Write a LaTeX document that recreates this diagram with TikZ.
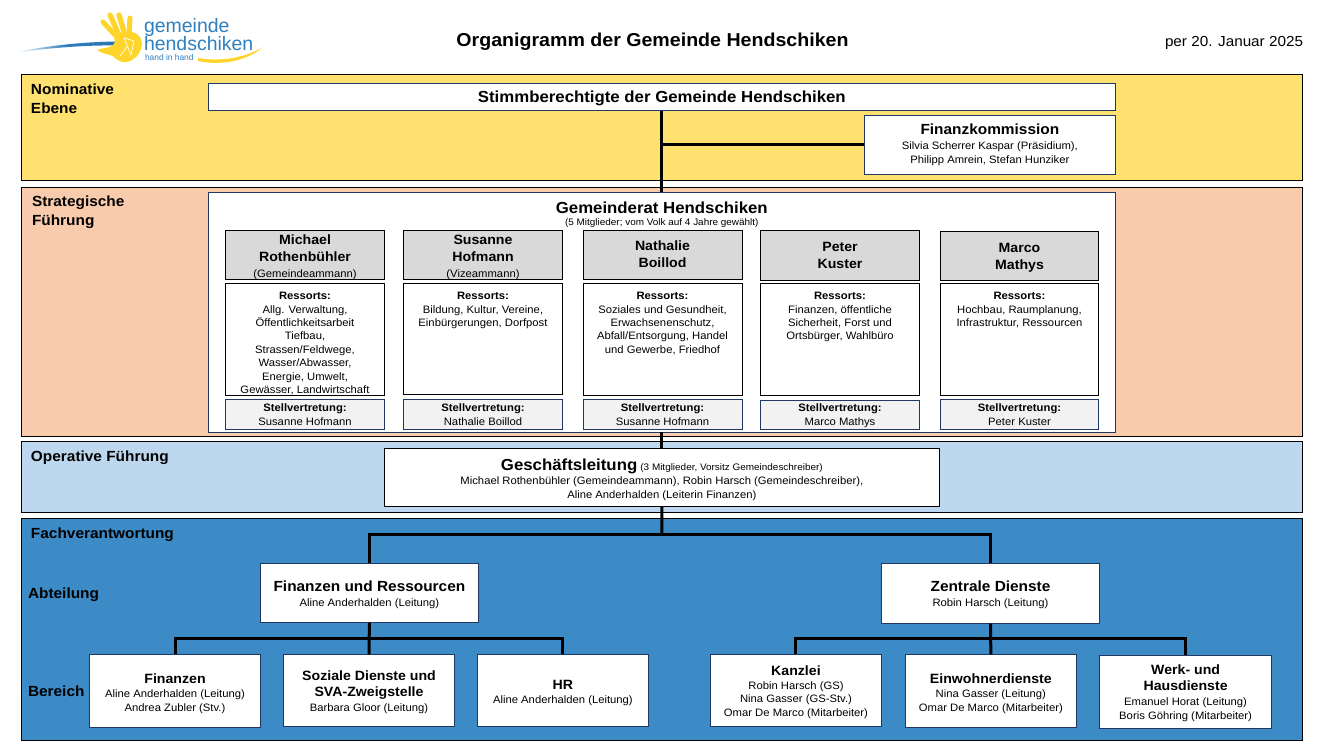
\documentclass[tikz,border=0pt]{standalone}
\usepackage{fontspec}
\setmainfont{Liberation Sans}[FakeStretch=1.05]
\newfontfamily\logofont{Liberation Sans}
\definecolor{navy}{HTML}{1F3864}
\definecolor{pyellow}{HTML}{FFE16F}
\definecolor{ppeach}{HTML}{F8CBAD}
\definecolor{plight}{HTML}{BDD7EE}
\definecolor{pblue}{HTML}{3C8AC6}
\definecolor{greyhead}{HTML}{D9D9D9}
\definecolor{greysub}{HTML}{F2F2F2}
\definecolor{logoblue}{HTML}{2F7FC1}
\definecolor{logoyellow}{HTML}{FFD52B}
\newcommand{\bx}[7]{%
  \pgfmathsetmacro\bxcx{(#3+#5)/2}%
  \pgfmathsetmacro\bxcy{(#4+#6)/2}%
  \pgfmathsetmacro\bxw{(#5-#3)*0.75}%
  \pgfmathsetmacro\bxh{(#6-#4)*0.75}%
  \def\bxtop{#4}%
  \node[#1,minimum width=\bxw pt,minimum height=\bxh pt] (#2) at (\bxcx,\bxcy) {#7};}
% text block whose first baseline lies at the given picture y
\newcommand{\tb}[2]{\pgfmathsetmacro\tbv{(#1-\bxtop)*0.75-10}\parbox[c][\bxh pt][t]{\bxw pt}{\vspace*{\tbv pt}\centering\rule{0pt}{10pt}#2\par}}
\newcommand{\hdo}[1]{{\fontsize{10.1}{12}\selectfont\bfseries #1}}
\newcommand{\hdl}[2][0.85pt]{\hdo{#2}\\[#1]}
\newcommand{\hdL}[2][0.85pt]{{\fontsize{11}{12}\selectfont\bfseries #2}\\[#1]}
\newcommand{\stv}[2]{\tb{#1}{\textbf{Stellvertretung:}\\#2}}
\begin{document}
\begin{tikzpicture}[x=0.75pt,y=-0.75pt,
  every node/.style={inner sep=0pt,outer sep=0pt,font=\fontsize{8.05}{10.05}\selectfont,align=center,text=black},
  panel/.style={draw=black,line width=0.75pt},
  nbox/.style={draw=navy,fill=white,line width=0.75pt},
  kbox/.style={draw=black,fill=white,line width=0.75pt},
  headbox/.style={draw=black,fill=greyhead,line width=0.75pt},
  subbox/.style={draw=navy,fill=greysub,line width=0.75pt},
  lev/.style={anchor=west,align=left,font=\fontsize{11}{14.25}\selectfont\bfseries},
  conn/.style={draw=black,line width=2.25pt},
  finger/.style={draw=logoyellow,line cap=round}]
\useasboundingbox (0,0) rectangle (1326,748);
\fill[white] (0,0) rectangle (1326,748);
% logo
\shade[left color=white,right color=logoblue!90!black,middle color=logoblue] (15,52.5) .. controls (50,45) and (85,42) .. (116,41.5) -- (116,45.5) .. controls (85,45) and (50,48) .. (15,52.5) -- cycle;
\draw[finger,line width=3.8pt] (103,22) -- (116,36);
\draw[finger,line width=4pt] (110,15) -- (119,35);
\draw[finger,line width=4pt] (119,15) -- (125,35);
\draw[finger,line width=3.8pt] (130,18) -- (129,35);
\fill[logoyellow] (97,50) .. controls (105,47) and (112,49) .. (115,42) .. controls (112,36) and (120,32) .. (127,32) .. controls (135,31) and (142,36) .. (142,43) .. controls (142,50) and (138,57) .. (132,60) .. controls (125,64) and (118,62) .. (113,56) .. controls (108,54) and (102,54) .. (97,50) -- cycle;
\draw[white,line width=0.5pt] (124,38) -- (134,41) -- (131,55) -- (124,38) (127,47) -- (120,56);
\fill[logoyellow] (198,58) .. controls (220,62) and (245,58) .. (263,47) .. controls (248,61) and (220,66) .. (198,61) -- cycle;
\node[anchor=base west,text=logoblue,font=\logofont\fontsize{14.6}{16}\selectfont] (lg1) at (144,33) {gemeinde};
\node[anchor=base west,text=logoblue,font=\logofont\fontsize{14.6}{16}\selectfont] (lg2) at (144,51) {hendschiken};
\node[anchor=base west,text=logoblue,font=\logofont\fontsize{6.3}{7}\selectfont] (lg3) at (145,60.5) {hand in hand};
% heading
\node[font=\fontsize{14}{16}\selectfont\bfseries] (title) at (652.5,41.5) {Organigramm der Gemeinde Hendschiken};
\node[anchor=east,font=\fontsize{10.9}{13}\selectfont] (date) at (1303,42.5) {per 20. Januar 2025};
% panels
\bx{panel,fill=pyellow}{pa}{21.7}{74.3}{1302.6}{180.6}{}
\bx{panel,fill=ppeach}{pb}{21.7}{187.3}{1302.6}{436.6}{}
\bx{panel,fill=plight}{pc}{21.7}{441.3}{1302.6}{512.3}{}
\bx{panel,fill=pblue}{pd}{21.7}{518}{1302.6}{740.4}{}
\node[lev] (la) at (31,98.5) {Nominative\\Ebene};
\node[lev] (lb) at (32,212.5) {Strategische\\Führung};
\node[lev] (lc) at (31,457.5) {Operative Führung};
\node[lev] (ld) at (31,534.5) {Fachverantwortung};
\node[lev] (le) at (28,594.5) {Abteilung};
\node[lev] (lf) at (28,691.5) {Bereich};
% nominative
\bx{nbox}{stimm}{208}{83.3}{1115.7}{110.7}{\tb{102.3}{\fontsize{12}{14}\selectfont\bfseries Stimmberechtigte der Gemeinde Hendschiken}}
\bx{nbox}{fk}{864}{115.3}{1115.7}{174.7}{\tb{135}{\hdL{Finanzkommission}Silvia Scherrer Kaspar (Präsidium),\\[0.4pt]Philipp Amrein, Stefan Hunziker}}
% council
\bx{nbox}{rat}{208}{192.3}{1115.7}{432.3}{}
\node[anchor=base,font=\fontsize{12}{14}\selectfont\bfseries] (rt) at (661.8,213.3) {Gemeinderat Hendschiken};
\node[anchor=base,font=\fontsize{7.1}{8}\selectfont] (rs) at (661.8,225.7) {(5 Mitglieder; vom Volk auf 4 Jahre gewählt)};
\bx{headbox}{h1}{225.3}{230.3}{384.7}{279.6}{\tb{245}{\hdl[2pt]{Michael}\hdl[2pt]{Rothenbühler}(Gemeindeammann)}}
\bx{headbox}{h2}{403.4}{230.3}{562.6}{279.6}{\tb{245}{\hdl[2pt]{Susanne}\hdl[2pt]{Hofmann}(Vizeammann)}}
\bx{headbox}{h3}{583}{230.3}{742}{279.6}{\tb{251}{\hdl[2pt]{Nathalie}\hdo{Boillod}}}
\bx{headbox}{h4}{760.3}{230.3}{919.7}{280.6}{\tb{252}{\hdl[2pt]{Peter}\hdo{Kuster}}}
\bx{headbox}{h5}{940.3}{231.3}{1098.7}{280.6}{\tb{253}{\hdl[2pt]{Marco}\hdo{Mathys}}}
\bx{kbox}{r1}{225.3}{283.3}{384.7}{395.6}{\tb{299.7}{\textbf{Ressorts:}\\Allg. Verwaltung,\\Öffentlichkeitsarbeit\\Tiefbau,\\Strassen/Feldwege,\\Wasser/Abwasser,\\Energie, Umwelt,\\Gewässer, Landwirtschaft}}
\bx{kbox}{r2}{403.4}{283.3}{562.6}{394.6}{\tb{299.7}{\textbf{Ressorts:}\\Bildung, Kultur, Vereine,\\Einbürgerungen, Dorfpost}}
\bx{kbox}{r3}{583}{283.3}{742}{395.6}{\tb{299.7}{\textbf{Ressorts:}\\Soziales und Gesundheit,\\Erwachsenenschutz,\\Abfall/Entsorgung, Handel\\und Gewerbe, Friedhof}}
\bx{kbox}{r4}{760.3}{283.3}{919.7}{395.6}{\tb{299.7}{\textbf{Ressorts:}\\Finanzen, öffentliche\\Sicherheit, Forst und\\Ortsbürger, Wahlbüro}}
\bx{kbox}{r5}{940.3}{283.3}{1098.7}{395.6}{\tb{299.7}{\textbf{Ressorts:}\\Hochbau, Raumplanung,\\Infrastruktur, Ressourcen}}
\bx{subbox}{s1}{225.3}{399.3}{384.7}{429.7}{\stv{411.7}{Susanne Hofmann}}
\bx{subbox}{s2}{403.4}{399.3}{562.6}{429.7}{\stv{411.7}{Nathalie Boillod}}
\bx{subbox}{s3}{583}{399.3}{742}{429.7}{\stv{411.7}{Susanne Hofmann}}
\bx{subbox}{s4}{760.3}{400.3}{919.7}{429.7}{\stv{411.7}{Marco Mathys}}
\bx{subbox}{s5}{940.3}{399.3}{1098.7}{429.7}{\stv{411.7}{Peter Kuster}}
% operative
\bx{kbox}{gl}{384.3}{448.3}{939.4}{506.6}{\tb{470}{{\fontsize{12}{14}\selectfont\bfseries Geschäftsleitung} {\fontsize{7.1}{8}\selectfont (3 Mitglieder, Vorsitz Gemeindeschreiber)}\\[0.7pt]Michael Rothenbühler (Gemeindeammann), Robin Harsch (Gemeindeschreiber),\\[0.5pt]Aline Anderhalden (Leiterin Finanzen)}}
% departments
\bx{nbox}{fr}{260.4}{563.3}{478.4}{622.6}{\tb{591.7}{\hdL[1.2pt]{Finanzen und Ressourcen}Aline Anderhalden (Leitung)}}
\bx{nbox}{zd}{881.3}{563.3}{1099.7}{623.6}{\tb{591.7}{\hdL[1.2pt]{Zentrale Dienste}Robin Harsch (Leitung)}}
\bx{nbox}{b1}{89.5}{654.3}{260.5}{727}{\tb{683.3}{\hdl{Finanzen}Aline Anderhalden (Leitung)\\Andrea Zubler (Stv.)}}
\bx{nbox}{b2}{283.6}{654.3}{454.4}{726.3}{\tb{680}{\hdl[2pt]{Soziale Dienste und}\hdl[1.4pt]{SVA-Zweigstelle}Barbara Gloor (Leitung)}}
\bx{nbox}{b3}{477.4}{654.3}{648.4}{726.3}{\tb{689}{\hdl{HR}Aline Anderhalden (Leitung)}}
\bx{nbox}{b4}{710.6}{654.3}{881.3}{726.3}{\tb{675}{\hdl{Kanzlei}Robin Harsch (GS)\\Nina Gasser (GS-Stv.)\\Omar De Marco (Mitarbeiter)}}
\bx{nbox}{b5}{905}{654.3}{1076.7}{727}{\tb{683.3}{\hdl{Einwohnerdienste}Nina Gasser (Leitung)\\Omar De Marco (Mitarbeiter)}}
\bx{nbox}{b6}{1099.5}{655.3}{1271.7}{728}{\tb{674}{\hdl[2.6pt]{Werk- und}\hdl[1.2pt]{Hausdienste}Emanuel Horat (Leitung)\\Boris Göhring (Mitarbeiter)}}
% connectors
\coordinate (busa) at (661.8,534);
\coordinate (busb) at (369,638.5);
\coordinate (busc) at (990.5,638.5);
\draw[conn] (stimm.south) -- (rat.north);
\draw[conn] (fk.west) -- (fk.west -| stimm.south);
\draw[conn] (rat.south) -- (gl.north);
\draw[conn] (gl.south) -- (busa);
\draw[conn] (fr.north) -- (fr.north |- busa) -- (zd.north |- busa) -- (zd.north);
\draw[conn] (fr.south) -- (b2.north);
\draw[conn] (b1.north) -- (b1.north |- busb) -- (b3.north |- busb) -- (b3.north);
\draw[conn] (zd.south) -- (b5.north);
\draw[conn] (b4.north) -- (b4.north |- busc) -- (b6.north |- busc) -- (b6.north);
\end{tikzpicture}
\end{document}
